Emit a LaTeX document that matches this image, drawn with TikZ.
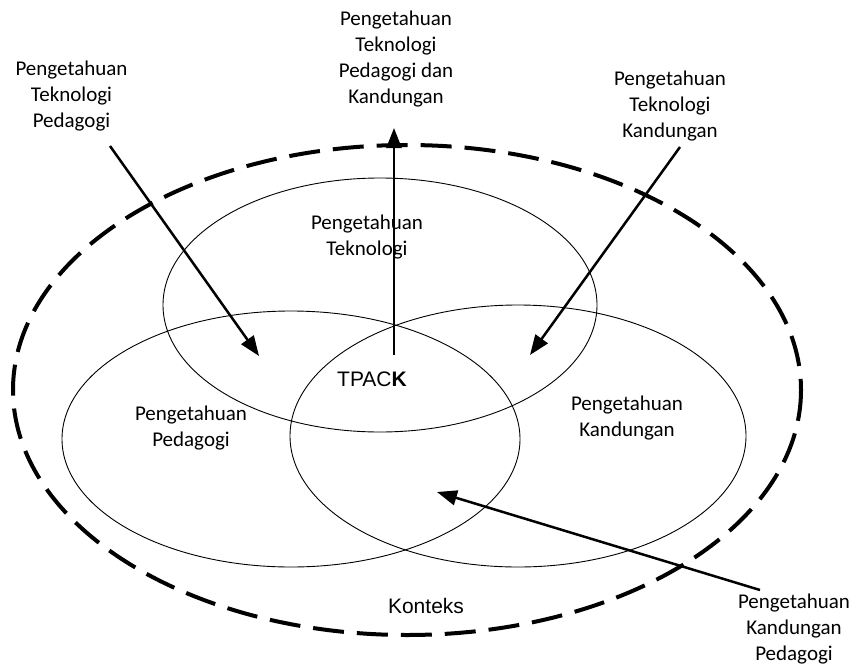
\documentclass[tikz,border=0pt]{standalone}
\usepackage{fontspec}
\setmainfont{Carlito}
\newfontfamily\arialf{Liberation Sans}
\usetikzlibrary{arrows.meta}
\tikzset{
  lbl/.style={align=center, inner sep=0pt, font=\fontsize{21}{26}\selectfont},
  albl/.style={inner sep=0pt, font=\arialf\fontsize{21}{26}\selectfont},
  thin ring/.style={draw=black, line width=0.9pt},
  context ring/.style={draw=black, line width=4pt, dash pattern=on 31pt off 13pt},
  pointer/.style={draw=black, line width=2.5pt, -{Triangle[length=20pt,width=15pt]}}
}
\begin{document}
\begin{tikzpicture}[x=1pt,y=-1pt]
\useasboundingbox (0,0) rectangle (854,667);
% context
\draw[context ring] (407,390) ellipse [x radius=394, y radius=245];
% three rings
\draw[thin ring] (380,305) ellipse [x radius=217, y radius=127];
\draw[thin ring] (291,439) ellipse [x radius=229, y radius=128];
\draw[thin ring] (518,436) ellipse [x radius=228, y radius=131];
% labels
\node[lbl] (tptk) at (396,59) {Pengetahuan\\Teknologi\\Pedagogi dan\\Kandungan};
\node[lbl] (tpk) at (71.5,96) {Pengetahuan\\Teknologi\\Pedagogi};
\node[lbl] (tck) at (670,106) {Pengetahuan\\Teknologi\\Kandungan};
\node[lbl] (pck) at (794,629) {Pengetahuan\\Kandungan\\Pedagogi};
\node[lbl] (tk) at (367,237) {Pengetahuan\\Teknologi};
\node[lbl] (pk) at (191,428) {Pengetahuan\\Pedagogi};
\node[lbl] (ck) at (627,418) {Pengetahuan\\Kandungan};
\node[albl] (tpack) at (372,379) {TPAC\textbf{K}};
\node[albl] (konteks) at (426,606) {Konteks};
% arrow ends
\coordinate (a1s) at (394,355);
\coordinate (a1e) at (394,128);
\coordinate (a2s) at (110,146);
\coordinate (a2e) at (259,356);
\coordinate (a3s) at (680,147);
\coordinate (a3e) at (530,355);
\coordinate (a4s) at (760,590);
\coordinate (a4e) at (437,492);
\draw[pointer] (a1s) -- (a1e);
\draw[pointer] (a2s) -- (a2e);
\draw[pointer] (a3s) -- (a3e);
\draw[pointer] (a4s) -- (a4e);
\end{tikzpicture}
\end{document}
